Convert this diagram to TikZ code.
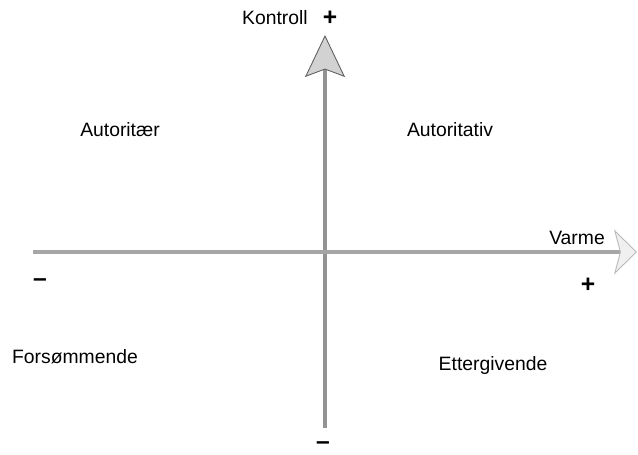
\documentclass[tikz,border=0pt]{standalone}
\usepackage{fontspec}
\setmainfont{Liberation Sans}
\usepackage{tikz}
\usetikzlibrary{arrows.meta}
\usepackage{xcolor}

\begin{document}
\begin{tikzpicture}[
  lbl/.style={font=\fontsize{11}{13}\selectfont,inner sep=1pt},
  sgn/.style={font=\fontsize{14}{16}\selectfont\bfseries,inner sep=1pt},
  axis/.style={line width=2.6pt,draw=gray!85}]
\useasboundingbox (0,0) rectangle (12.76,9.08);
\coordinate (vlow) at (6.5,0.52);
\coordinate (vtop) at (6.5,8.38);
\coordinate (hleft) at (0.66,4.04);
\coordinate (hright) at (12.74,4.04);
\draw[axis,-{Stealth[length=8.4mm,width=8mm,inset=1.5mm,fill=gray!35,color=gray!75!black,line width=0.5pt]}] (vlow) -- (vtop);
\draw[axis,draw=gray!70,-{Stealth[length=4.6mm,width=9mm,inset=1.2mm,fill=gray!12,color=gray!55,line width=0.5pt]}] (hleft) -- (hright);
\node[lbl] (kontroll) at (5.5,8.72) {Kontroll};
\node[sgn] (plusK) at (6.6,8.72) {+};
\node[sgn] (minusK) at (6.46,0.16) {–};
\node[lbl] (varme) at (11.54,4.32) {Varme};
\node[sgn] (plusV) at (11.76,3.38) {+};
\node[sgn] (minusV) at (0.8,3.42) {–};
\node[lbl] (autoritaer) at (2.4,6.48) {Autoritær};
\node[lbl] (autoritativ) at (9.0,6.48) {Autoritativ};
\node[lbl] (forsommende) at (1.5,1.94) {Forsømmende};
\node[lbl] (ettergivende) at (9.86,1.78) {Ettergivende};
\end{tikzpicture}
\end{document}
